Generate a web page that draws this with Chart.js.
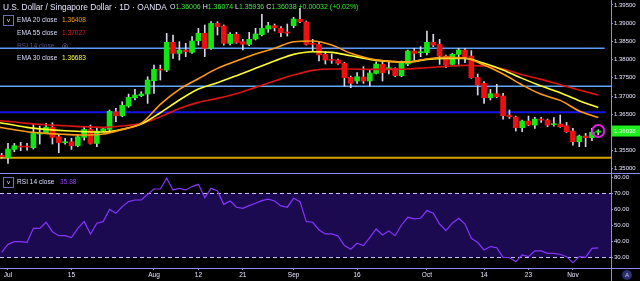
<!DOCTYPE html>
<html>
<head>
<meta charset="utf-8">
<script src="https://cdn.jsdelivr.net/npm/chart.js@4.4.1/dist/chart.umd.min.js"></script>
<style>
    body { margin: 0; background: #000; width: 640px; height: 281px; overflow: hidden; position: relative;
           font-family: "Liberation Sans", Arial, sans-serif; }
    canvas { position: absolute; left: 0; }
    #price { top: 0; }
    #rsi { top: 173px; }
    .t { position: absolute; white-space: nowrap; line-height: 10px; }
    .box { position: absolute; width: 9px; height: 9px; border: 1px solid #6f6fb8; color: #e8e8ff;
           font-size: 6px; line-height: 8px; text-align: center; }
</style>
</head>
<body>
<canvas id="price" width="640" height="173"></canvas>
<canvas id="rsi" width="640" height="108"></canvas>

<div class="t" style="left:3px;top:2px;font-size:8.3px;color:#e6e6ff">U.S. Dollar / Singapore Dollar · 1D · OANDA</div>
<div class="t" style="left:170px;top:2px;font-size:7px;color:#e6e6ff">O<span style="color:#35f035">1.36006</span> H<span style="color:#35f035">1.36074</span> L<span style="color:#35f035">1.35936</span> C<span style="color:#35f035">1.36038</span> <span style="color:#35f035">+0.00032 (+0.02%)</span></div>

<div class="box" style="left:3px;top:15px">v</div>
<div class="t" style="left:17px;top:15px;font-size:6.6px;color:#dcdcff">EMA 20 close</div>
<div class="t" style="left:62px;top:15px;font-size:6.6px;color:#ff9f1a">1.36408</div>
<div class="t" style="left:17px;top:28px;font-size:6.6px;color:#dcdcff">EMA 55 close</div>
<div class="t" style="left:62px;top:28px;font-size:6.6px;color:#ee2020">1.37027</div>
<div class="t" style="left:17px;top:40.5px;font-size:6.6px;color:#55558c">RSI 14 close</div>
<div class="t" style="left:62px;top:40.5px;font-size:6.6px;color:#9a9acc">◎</div>
<div class="t" style="left:17px;top:53px;font-size:6.6px;color:#dcdcff">EMA 30 close</div>
<div class="t" style="left:62px;top:53px;font-size:6.6px;color:#ffff40">1.36683</div>

<div class="box" style="left:3px;top:177px">v</div>
<div class="t" style="left:17px;top:176.5px;font-size:6.6px;color:#dcdcff">RSI 14 close</div>
<div class="t" style="left:60px;top:176.5px;font-size:6.6px;color:#9040ff">35.88</div>

<div class="t" style="left:622px;top:270px;width:10px;height:10px;border-radius:5px;background:#2a2f70;color:#c8c8ff;font-size:6px;text-align:center">A</div>

<script>
// candle index of the first entry (Jun 28), then one per trading day to Nov 7
const candleStart = -1

const opens = [
    1.35368, 1.35304, 1.35533, 1.35625, 1.35625, 1.35579, 1.35955, 1.35982, 1.36147, 1.35881,
    1.35717, 1.35744, 1.35634, 1.35863, 1.36083, 1.35698, 1.36046, 1.36083, 1.36568, 1.36458,
    1.36724, 1.36953, 1.37008, 1.37054, 1.37420, 1.37741, 1.37713, 1.38474, 1.38171, 1.38263,
    1.38199, 1.38519, 1.38721, 1.38309, 1.38996, 1.38923, 1.38446, 1.38694, 1.38492, 1.38419,
    1.38565, 1.38684, 1.38840, 1.38932, 1.38858, 1.38749, 1.38932, 1.39106, 1.39032, 1.38437,
    1.38419, 1.38144, 1.37997, 1.37988, 1.37897, 1.37512, 1.37411, 1.37521, 1.37411, 1.37622,
    1.37869, 1.37741, 1.37759, 1.37558, 1.37878, 1.38236, 1.38190, 1.38190, 1.38474, 1.38419,
    1.38098, 1.37869, 1.38144, 1.38263, 1.38098, 1.37512, 1.37347, 1.36953, 1.37063, 1.36999,
    1.36477, 1.36422, 1.36129, 1.36312, 1.36202, 1.36367, 1.36339, 1.36211, 1.36229, 1.36184,
    1.36037, 1.35744, 1.35900, 1.35854, 1.36006
]
const highs = [
    1.35424, 1.35698, 1.35698, 1.35726, 1.35698, 1.36229, 1.36174, 1.36248, 1.36266, 1.35927,
    1.35836, 1.35836, 1.35927, 1.36156, 1.36202, 1.36110, 1.36138, 1.36614, 1.36660, 1.36843,
    1.37054, 1.37182, 1.37118, 1.37530, 1.37851, 1.37851, 1.38721, 1.38675, 1.38492, 1.38446,
    1.38629, 1.38858, 1.38950, 1.39042, 1.39042, 1.38950, 1.38739, 1.38749, 1.38556, 1.38749,
    1.38858, 1.39243, 1.39023, 1.38978, 1.38904, 1.38978, 1.39161, 1.39408, 1.39060, 1.38556,
    1.38465, 1.38217, 1.38153, 1.38016, 1.37924, 1.37548, 1.37640, 1.37805, 1.37713, 1.37942,
    1.37942, 1.37942, 1.37777, 1.37961, 1.38263, 1.38309, 1.38355, 1.38785, 1.38694, 1.38556,
    1.38126, 1.38171, 1.38309, 1.38309, 1.38245, 1.37604, 1.37393, 1.37182, 1.37320, 1.37072,
    1.36614, 1.36449, 1.36339, 1.36449, 1.36413, 1.36413, 1.36367, 1.36404, 1.36477, 1.36275,
    1.36110, 1.35927, 1.35973, 1.36110, 1.36074
]
const lows = [
    1.35286, 1.35149, 1.35469, 1.35497, 1.35515, 1.35542, 1.35680, 1.35973, 1.35680, 1.35442,
    1.35680, 1.35533, 1.35607, 1.35790, 1.35680, 1.35607, 1.36019, 1.36046, 1.36294, 1.36431,
    1.36688, 1.36889, 1.36981, 1.36797, 1.37072, 1.37439, 1.37668, 1.38034, 1.37988, 1.38080,
    1.38171, 1.38400, 1.38080, 1.38281, 1.38675, 1.38400, 1.38400, 1.38446, 1.38263, 1.38382,
    1.38538, 1.38648, 1.38749, 1.38785, 1.38629, 1.38648, 1.38877, 1.39014, 1.38400, 1.38217,
    1.37961, 1.37878, 1.37897, 1.37869, 1.37274, 1.37228, 1.37347, 1.37347, 1.37274, 1.37604,
    1.37411, 1.37604, 1.37530, 1.37530, 1.37832, 1.37988, 1.38080, 1.38126, 1.38355, 1.37869,
    1.37777, 1.37851, 1.37869, 1.37915, 1.37485, 1.37026, 1.36797, 1.36889, 1.36953, 1.36367,
    1.36385, 1.36037, 1.36019, 1.36184, 1.36110, 1.36275, 1.36156, 1.36174, 1.36138, 1.36001,
    1.35652, 1.35607, 1.35607, 1.35772, 1.35936
]
const closes = [
    1.35332, 1.35542, 1.35634, 1.35597, 1.35597, 1.35973, 1.35991, 1.36147, 1.35863, 1.35717,
    1.35735, 1.35634, 1.35881, 1.36083, 1.35698, 1.36037, 1.36101, 1.36578, 1.36458, 1.36743,
    1.36962, 1.37026, 1.37054, 1.37439, 1.37732, 1.37713, 1.38474, 1.38171, 1.38263, 1.38217,
    1.38510, 1.38721, 1.38309, 1.38996, 1.38904, 1.38446, 1.38694, 1.38474, 1.38419, 1.38556,
    1.38703, 1.38858, 1.38932, 1.38877, 1.38739, 1.38730, 1.39115, 1.39042, 1.38419, 1.38419,
    1.38126, 1.37988, 1.37979, 1.37897, 1.37503, 1.37347, 1.37530, 1.37411, 1.37631, 1.37878,
    1.37640, 1.37777, 1.37558, 1.37924, 1.38236, 1.38171, 1.38217, 1.38474, 1.38400, 1.38098,
    1.37851, 1.38144, 1.38263, 1.38080, 1.37503, 1.37302, 1.36953, 1.37063, 1.36981, 1.36458,
    1.36431, 1.36129, 1.36312, 1.36202, 1.36367, 1.36339, 1.36202, 1.36229, 1.36156, 1.36019,
    1.35744, 1.35900, 1.35854, 1.36006, 1.36038
]

// moving averages, read every third candle
const emaIdx = [-1.26, 0, 3, 6, 9, 12, 15, 18, 21, 24, 27, 30, 33, 36, 39, 42, 45,
                48, 51, 54, 57, 60, 63, 66, 69, 72, 75, 78, 81, 84, 87, 90, 93]
const ema20 = [1.36138, 1.36101, 1.36019, 1.35973, 1.35946, 1.35927, 1.35955, 1.36083, 1.36248,
               1.36770, 1.37182, 1.37475, 1.37759, 1.37961, 1.38153, 1.38309, 1.38492, 1.38510,
               1.38400, 1.38171, 1.38025, 1.37952, 1.37933, 1.38016, 1.38062, 1.38043, 1.37851,
               1.37604, 1.37302, 1.37045, 1.36880, 1.36587, 1.36408]
const ema30 = [1.36266, 1.36229, 1.36138, 1.36083, 1.36046, 1.36019, 1.36010, 1.36083, 1.36229,
               1.36541, 1.36889, 1.37191, 1.37365, 1.37558, 1.37759, 1.37961, 1.38144, 1.38217,
               1.38199, 1.38107, 1.38007, 1.37952, 1.37933, 1.38007, 1.38034, 1.38034, 1.37897,
               1.37713, 1.37484, 1.37274, 1.37090, 1.36871, 1.36683]
const ema55 = [1.36321, 1.36303, 1.36248, 1.36211, 1.36184, 1.36156, 1.36138, 1.36174, 1.36248,
               1.36431, 1.36660, 1.36825, 1.36935, 1.37063, 1.37237, 1.37411, 1.37576, 1.37704,
               1.37741, 1.37741, 1.37732, 1.37732, 1.37741, 1.37777, 1.37814, 1.37842, 1.37823,
               1.37741, 1.37585, 1.37457, 1.37310, 1.37164, 1.37027]

const rsi14 = [
    33.1, 38.1, 39.8, 39.8, 39.4, 48.1, 48.1, 51.9, 46.0, 43.5,
    43.5, 42.3, 48.1, 52.3, 44.6, 51.3, 52.3, 60.0, 57.5, 61.7,
    64.8, 65.8, 65.8, 69.4, 72.7, 72.7, 79.4, 72.1, 73.1, 72.1,
    74.2, 75.6, 67.3, 73.1, 71.5, 63.1, 65.2, 61.3, 60.6, 62.3,
    63.8, 65.4, 66.3, 65.2, 62.1, 61.3, 66.9, 64.8, 52.3, 51.9,
    47.1, 44.6, 44.6, 43.3, 37.3, 35.0, 38.8, 37.3, 42.3, 47.7,
    44.0, 46.5, 43.5, 50.2, 55.0, 54.0, 54.4, 59.2, 57.5, 50.8,
    46.7, 51.3, 54.4, 50.8, 41.9, 39.2, 34.6, 36.7, 36.0, 30.0,
    29.8, 27.3, 31.5, 30.4, 34.0, 34.0, 32.5, 32.5, 31.9, 30.4,
    26.7, 30.4, 30.0, 35.6, 35.9
]

// drawn horizontal levels and the candle index where each one stops
const levels = [1.38310, 1.37266, 1.36552, 1.35305]
const levelEnds = [94.0, 95, 94.2, 95]

const priceTicks = [1.350, 1.355, 1.360, 1.365, 1.370, 1.375, 1.380, 1.385, 1.390, 1.395]
const rsiTicks = [30, 40, 50, 60, 70, 80]
const rsiBands = [70, 30]
const timeTickIdx = [0, 10, 23, 30, 37, 45, 55, 66, 75, 82, 89]
const timeTickLabels = ['Jul', '15', 'Aug', '12', '21', 'Sep', '16', 'Oct', '14', '23', 'Nov']


const X_MIN = -1.26
const X_MAX = 95
const AXIS_COLOR = '#8a8cf2'
const TEXT_COLOR = '#e6e6ff'
const FONT = '"Liberation Sans", Arial, sans-serif'
const UP = '#14e614'
const DOWN = '#ec1010'
const WICK = '#d6d6e6'
const levelColors = ['#5a9cff', '#62a6ff', '#1414e6', '#d8a400']
const levelWidths = [1.5, 1.5, 2, 2]

const candleX = closes.map((c, k) => k + candleStart)
const lastK = closes.length - 1


function noPad(scale) {
    scale.paddingTop = 0
    scale.paddingBottom = 0
    scale.paddingLeft = 0
    scale.paddingRight = 0
}

function emaData(values) {
    return values.map((v, k) => ({ x: emaIdx[k], y: v }))
}

const levelSets = levels.map((lvl, k) => ({
    type: 'line',
    data: [{ x: X_MIN, y: lvl }, { x: levelEnds[k], y: lvl }],
    borderColor: levelColors[k],
    borderWidth: levelWidths[k],
    pointRadius: 0,
    order: 10
}))

const priceExtras = {
    id: 'priceExtras',
    afterDraw(chart) {
        const ctx = chart.ctx
        const xs = chart.scales.x
        const ys = chart.scales.y
        const last = closes[lastK]
        const py = ys.getPixelForValue(last)
        const px = xs.getPixelForValue(candleX[lastK])

        ctx.save()
        ctx.strokeStyle = '#e21ee2'
        ctx.lineWidth = 2
        ctx.beginPath()
        ctx.arc(px, py, 6, 0, Math.PI * 2)
        ctx.stroke()

        ctx.fillStyle = '#1ef01e'
        ctx.fillRect(chart.chartArea.right + 1, py - 5.5, chart.width - chart.chartArea.right - 1, 11)
        ctx.fillStyle = '#f4fff4'
        ctx.font = '6px ' + FONT
        ctx.textBaseline = 'middle'
        ctx.fillText(last.toFixed(5), chart.chartArea.right + 3, py + 0.5)
        ctx.restore()
    }
}

new Chart(document.getElementById('price'), {
    type: 'bar',
    data: {
        datasets: [
            ...levelSets,
            {
                type: 'bar',
                data: candleX.map((x, k) => ({ x: x, y: [lows[k], highs[k]] })),
                backgroundColor: WICK,
                barThickness: 1,
                grouped: false,
                order: 6
            },
            {
                type: 'bar',
                data: candleX.map((x, k) => ({ x: x, y: [opens[k], closes[k]] })),
                backgroundColor: closes.map((c, k) => c >= opens[k] ? UP : DOWN),
                barThickness: 5,
                minBarLength: 1,
                grouped: false,
                order: 5
            },
            { type: 'line', data: emaData(ema55), borderColor: '#dc1414', borderWidth: 1.6,
              pointRadius: 0, cubicInterpolationMode: 'monotone', order: 3 },
            { type: 'line', data: emaData(ema30), borderColor: '#ffff30', borderWidth: 1.6,
              pointRadius: 0, cubicInterpolationMode: 'monotone', order: 2 },
            { type: 'line', data: emaData(ema20), borderColor: '#ff9c14', borderWidth: 1.6,
              pointRadius: 0, cubicInterpolationMode: 'monotone', order: 1 }
        ]
    },
    options: {
        responsive: false,
        animation: false,
        layout: { padding: 0 },
        plugins: { legend: { display: false }, tooltip: { enabled: false } },
        scales: {
            x: { type: 'linear', min: X_MIN, max: X_MAX, offset: false, display: false },
            y: {
                position: 'right',
                min: 1.34885,
                max: 1.39637,
                afterBuildTicks: (s) => { s.ticks = priceTicks.map(v => ({ value: v })) },
                afterFit: (s) => { s.width = 29; noPad(s) },
                ticks: {
                    color: TEXT_COLOR,
                    font: { size: 6, family: FONT },
                    padding: 1,
                    autoSkip: false,
                    callback: (v) => v.toFixed(5)
                },
                grid: { drawOnChartArea: false, drawTicks: true, tickLength: 2, color: AXIS_COLOR },
                border: { display: true, color: AXIS_COLOR }
            }
        }
    },
    plugins: [priceExtras]
})


const rsiExtras = {
    id: 'rsiExtras',
    beforeDatasetsDraw(chart) {
        const ctx = chart.ctx
        const area = chart.chartArea
        const ys = chart.scales.y
        const yTop = ys.getPixelForValue(rsiBands[0])
        const yBot = ys.getPixelForValue(rsiBands[1])

        ctx.save()
        ctx.fillStyle = '#1b0a50'
        ctx.fillRect(area.left, yTop, area.right - area.left, yBot - yTop)
        ctx.strokeStyle = '#c4c4ff'
        ctx.lineWidth = 1
        ctx.setLineDash([4, 3])
        rsiBands.forEach(v => {
            const y = Math.round(ys.getPixelForValue(v)) + 0.5
            ctx.beginPath()
            ctx.moveTo(area.left, y)
            ctx.lineTo(area.right, y)
            ctx.stroke()
        })
        ctx.restore()
    },
    afterDraw(chart) {
        const ctx = chart.ctx
        const area = chart.chartArea
        ctx.save()
        ctx.strokeStyle = AXIS_COLOR
        ctx.lineWidth = 1
        ctx.beginPath()
        ctx.moveTo(0, 0.5)
        ctx.lineTo(chart.width, 0.5)
        ctx.moveTo(0, Math.round(area.bottom) + 0.5)
        ctx.lineTo(chart.width, Math.round(area.bottom) + 0.5)
        ctx.moveTo(Math.round(area.right) + 0.5, 0)
        ctx.lineTo(Math.round(area.right) + 0.5, chart.height)
        ctx.stroke()
        ctx.restore()
    }
}

new Chart(document.getElementById('rsi'), {
    type: 'line',
    data: {
        datasets: [{
            data: rsi14.map((v, k) => ({ x: k + candleStart, y: v })),
            borderColor: '#8634ff',
            borderWidth: 1.2,
            pointRadius: 0,
            tension: 0
        }]
    },
    options: {
        responsive: false,
        animation: false,
        layout: { padding: { top: 1, left: 0, right: 0, bottom: 0 } },
        plugins: { legend: { display: false }, tooltip: { enabled: false } },
        scales: {
            x: {
                type: 'linear',
                min: X_MIN,
                max: X_MAX,
                afterBuildTicks: (s) => { s.ticks = timeTickIdx.map(v => ({ value: v })) },
                afterFit: (s) => { s.height = 13; noPad(s) },
                ticks: {
                    color: TEXT_COLOR,
                    font: { size: 6.5, family: FONT },
                    padding: 1,
                    autoSkip: false,
                    maxRotation: 0,
                    callback: (v, i) => timeTickLabels[i]
                },
                grid: { drawOnChartArea: false, drawTicks: true, tickLength: 2, color: AXIS_COLOR },
                border: { display: true, color: AXIS_COLOR }
            },
            y: {
                position: 'right',
                min: 23.31,
                max: 82.06,
                afterBuildTicks: (s) => { s.ticks = rsiTicks.map(v => ({ value: v })) },
                afterFit: (s) => { s.width = 29; noPad(s) },
                ticks: {
                    color: TEXT_COLOR,
                    font: { size: 6, family: FONT },
                    padding: 1,
                    autoSkip: false,
                    callback: (v) => v.toFixed(2)
                },
                grid: { drawOnChartArea: false, drawTicks: true, tickLength: 2, color: AXIS_COLOR },
                border: { display: true, color: AXIS_COLOR }
            }
        }
    },
    plugins: [rsiExtras]
})
</script>
</body>
</html>
